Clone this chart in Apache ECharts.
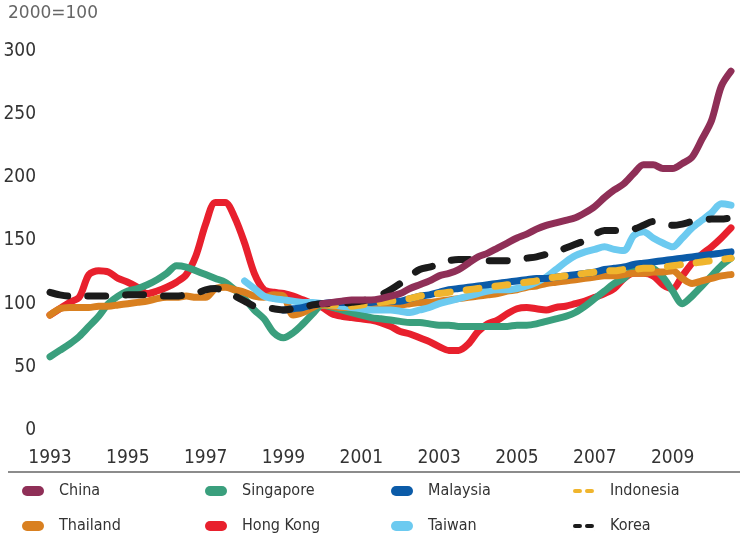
<!DOCTYPE html>
<html>
<head>
<meta charset="utf-8">
<script src="https://cdn.jsdelivr.net/npm/echarts@6/dist/echarts.min.js"></script>
<style>
html,body{margin:0;padding:0;background:#fff;}
#chart{width:740px;height:539px;}
</style>
</head>
<body>
<div id="chart"></div>
<script>
// quarterly, 1993Q1 .. 2010Q3
const quarters = [];
for (let y = 1993; y <= 2010; y++) {
	for (let q = 1; q <= 4; q++) {
		if (y === 2010 && q > 3) break;
		quarters.push(y + 'Q' + q);
	}
}
const _ = null;

const china = [_,_,_,_,_,_,_,_,_,_,_,_,_,_,_,_,_,_,_,_,_,_,_,_,_,_,_,_,
	100,101,102,103,103,103,104,106,108,112,115,118,122,124,127,132,137,140,144,148,
	152,155,159,162,164,166,168,172,177,184,190,195,203,210,210,207,207,211,216,230,245,272,284];
const singapore = [58,63,68,74,82,90,100,106,110,112,115,119,124,130,129,126,123,120,117,111,
	104,95,88,77,73,77,84,92,99,97,95,93,91,89,88,87,86,85,85,84,
	83,83,82,82,82,82,82,82,83,83,84,86,88,90,93,98,104,110,116,120,
	128,129,128,121,110,100,106,114,122,130,136];
const malaysia = [_,_,_,_,_,_,_,_,_,_,_,_,_,_,_,_,_,_,_,_,_,_,_,_,
	95,96,97,99,100,101,101,101,101,101,102,102,102,104,106,107,109,111,112,113,
	114,115,116,117,118,119,120,120,121,122,123,124,125,127,128,129,131,132,133,134,
	135,136,137,138,139,140,141];
const indonesia = [_,_,_,_,_,_,_,_,_,_,_,_,_,_,_,_,_,_,_,_,_,_,_,_,_,_,_,_,
	99,99,98,98,99,100,101,102,103,104,106,107,108,109,110,111,112,113,114,115,
	116,117,118,120,121,122,123,124,125,126,126,127,127,128,128,129,130,131,132,133,134,135,136];
const thailand = [91,96,97,97,97,98,98,99,100,101,102,104,105,105,106,105,105,112,113,111,
	109,106,105,107,106,91,93,97,100,98,97,97,97,97,98,99,99,100,101,101,
	102,103,104,105,106,107,108,110,111,113,114,116,117,118,119,120,121,122,122,123,
	124,124,125,125,126,120,116,118,120,122,123];
const hongKong = [91,96,101,105,123,126,125,120,117,113,108,110,113,117,123,138,163,180,180,168,
	148,124,111,109,108,106,103,100,97,92,90,89,88,87,85,82,78,76,73,70,
	66,63,63,68,78,84,87,92,96,97,96,95,97,98,100,102,105,108,112,120,
	124,124,122,115,112,122,132,139,145,152,160];
const taiwan = [_,_,_,_,_,_,_,_,_,_,_,_,_,_,_,_,_,_,_,_,
	118,112,106,104,103,102,101,101,100,99,98,97,96,95,95,95,94,93,95,97,
	100,102,104,106,108,110,111,111,112,114,117,121,127,133,138,141,143,145,143,142,
	154,157,152,148,145,152,160,166,172,179,178];
const korea = [109,107,106,106,106,106,106,106,107,107,107,106,106,106,107,108,111,112,110,106,
	102,98,97,96,95,96,97,99,100,100,100,101,102,104,107,111,116,122,127,129,
	131,134,135,135,134,134,134,134,135,136,137,139,141,144,147,150,155,158,158,158,
	159,162,165,164,162,163,165,166,167,167,168];

const yTicks = [0, 50, 100, 150, 200, 250, 300];

const colors = {
	China: '#8f2f57',
	Singapore: '#3a9f7d',
	Malaysia: '#0b5ba8',
	Indonesia: '#f0b52d',
	Thailand: '#d98020',
	'Hong Kong': '#e8202d',
	Taiwan: '#6ccaf0',
	Korea: '#1b1b1b'
};

const font = '"Liberation Sans Narrow", "DejaVu Sans Condensed", "Liberation Sans", sans-serif';

function line(name, data, dash) {
	return {
		name: name,
		type: 'line',
		data: data,
		smooth: 0.3,
		showSymbol: false,
		itemStyle: { color: colors[name] },
		lineStyle: {
			color: colors[name],
			width: 7,
			cap: 'round',
			join: 'round',
			type: dash || 'solid'
		},
		emphasis: { disabled: true }
	};
}

//图例：实线用胶囊形，虚线用两段短线
const pill = 'path://M5,0 h12 a5,5 0 0 1 0,10 h-12 a5,5 0 0 1 0,-10 z';
const dashIcon = 'path://M2,3 h5 a2,2 0 0 1 0,4 h-5 a2,2 0 0 1 0,-4 z M14,3 h5 a2,2 0 0 1 0,4 h-5 a2,2 0 0 1 0,-4 z M0,0 h0.01 v10 h-0.01 z M22,0 h0.01 v10 h-0.01 z';

function legendCol(left, items) {
	return {
		left: left,
		top: 483,
		padding: 0,
		orient: 'vertical',
		itemWidth: 22,
		itemHeight: 10,
		itemGap: 19,
		icon: pill,
		data: items,
		textStyle: { fontFamily: font, fontSize: 16, color: '#333', lineHeight: 16, padding: [0, 0, 0, 10] }
	};
}

let $chart = echarts.init(document.getElementById('chart'));

$chart.setOption({
	backgroundColor: '#fff',
	animation: false,
	grid: { left: 50, right: 9, top: 51, bottom: 109 },
	xAxis: {
		type: 'category',
		data: quarters,
		boundaryGap: false,
		axisLine: { show: false },
		axisTick: { show: false },
		splitLine: { show: false },
		axisLabel: {
			interval: (i) => i % 8 === 0,
			formatter: (v) => v.slice(0, 4),
			margin: 19,
			fontFamily: font,
			fontSize: 19,
			color: '#333'
		}
	},
	yAxis: {
		type: 'value',
		min: yTicks[0],
		max: yTicks[yTicks.length - 1],
		interval: 50,
		axisLine: { show: false },
		axisTick: { show: false },
		splitLine: { show: false },
		axisLabel: { margin: 14, fontFamily: font, fontSize: 19, color: '#333' }
	},
	legend: [
		legendCol(22, [{ name: 'China' }, { name: 'Thailand' }]),
		legendCol(205, [{ name: 'Singapore' }, { name: 'Hong Kong' }]),
		legendCol(391, [{ name: 'Malaysia' }, { name: 'Taiwan' }]),
		legendCol(573, [{ name: 'Indonesia', icon: dashIcon }, { name: 'Korea', icon: dashIcon }])
	],
	graphic: [
		{ type: 'text', left: 8, top: 5, style: { text: '2000=100', fontFamily: '"DejaVu Sans", sans-serif', fontSize: 17, fill: '#666' } },
		{ type: 'line', shape: { x1: 8, y1: 472, x2: 740, y2: 472 }, style: { stroke: '#8c8c8c', lineWidth: 2 } }
	],
	series: [
		line('Hong Kong', hongKong),
		line('Singapore', singapore),
		line('Thailand', thailand),
		line('Taiwan', taiwan),
		line('Malaysia', malaysia),
		line('Indonesia', indonesia, [13, 16]),
		line('Korea', korea, [18, 20]),
		line('China', china)
	]
});
</script>
</body>
</html>
